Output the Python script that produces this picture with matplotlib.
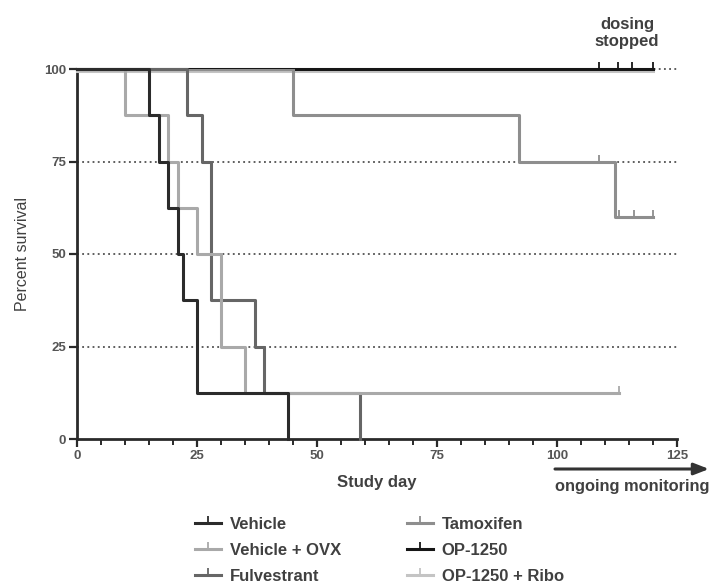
import matplotlib.pyplot as plt
from matplotlib.lines import Line2D

plt.rcParams['font.family'] = ['Liberation Sans', 'DejaVu Sans']

# Kaplan-Meier step data (day of event, survival after event)
veh_days = [0, 15, 17, 19, 21, 22, 25, 44]
veh_surv = [100, 87.5, 75, 62.5, 50, 37.5, 12.5, 0]

ovx_days = [0, 10, 19, 21, 25, 30, 35, 113]
ovx_surv = [100, 87.5, 75, 62.5, 50, 25, 12.5, 12.5]
ovx_cens = [113]

ful_days = [0, 23, 26, 28, 37, 39, 59]
ful_surv = [100, 87.5, 75, 37.5, 25, 12.5, 0]

tam_days = [0, 45, 92, 112, 120]
tam_surv = [100, 87.5, 75, 60, 60]
tam_cens_days = [108.8, 113, 116, 120]
tam_cens_surv = [75, 60, 60, 60]

op_days = [0, 120]
op_surv = [100, 100]
op_cens = [108.8, 112.8, 115.6, 120]

opr_days = [0, 120]
opr_surv = [100, 100]
opr_cens = [108.8, 112.8, 115.6, 120]

names = ['Vehicle', 'Vehicle + OVX', 'Fulvestrant', 'Tamoxifen', 'OP-1250', 'OP-1250 + Ribo']
colors = ['#2b2b2b', '#a9a9a9', '#666666', '#8e8e8e', '#161616', '#c4c4c4']
txt = '#404040'

fig = plt.figure(figsize=(7.1, 5.88), dpi=100)
ax = fig.add_axes([77/710, 1-439/588, 600/710, 370/588])

for yv in [25, 50, 75, 100]:
    ax.plot([0, 125], [yv, yv], ls=(0, (1.2, 2.2)), color='#333333', lw=1.1, zorder=1, clip_on=False)

lw = 2.2
ax.step(opr_days, [s - 0.6 for s in opr_surv], where='post', color=colors[5], lw=lw, clip_on=False, zorder=3)
ax.step(op_days, op_surv, where='post', color=colors[4], lw=lw, clip_on=False, zorder=3)
ax.plot(op_cens, [100]*len(op_cens), ls='', marker=2, ms=5, mew=1.3, color=colors[4], clip_on=False, zorder=4)
ax.step(tam_days, tam_surv, where='post', color=colors[3], lw=lw, zorder=3)
ax.plot(tam_cens_days, tam_cens_surv, ls='', marker=2, ms=5, mew=1.3, color=colors[3], zorder=4)
ax.step(ful_days, ful_surv, where='post', color=colors[2], lw=lw, zorder=3, clip_on=False)
ax.step(ovx_days, ovx_surv, where='post', color=colors[1], lw=lw, zorder=3)
ax.plot(ovx_cens, [12.5], ls='', marker=2, ms=5, mew=1.3, color=colors[1], zorder=4)
ax.step(veh_days, veh_surv, where='post', color=colors[0], lw=lw, zorder=4, clip_on=False)

ax.set_xlim(0, 125)
ax.set_ylim(0, 100)
ax.set_xticks([0, 25, 50, 75, 100, 125])
ax.set_xticks(range(0, 126, 5), minor=True)
ax.set_yticks([0, 25, 50, 75, 100])
for s in ['top', 'right']:
    ax.spines[s].set_visible(False)
for s in ['left', 'bottom']:
    ax.spines[s].set_linewidth(2)
    ax.spines[s].set_color('#2a2a2a')
ax.tick_params(which='major', length=6, width=1.6, color='#2a2a2a', labelsize=9.5,
               labelcolor='#555555', pad=2)
ax.tick_params(which='minor', length=4, width=1.4, color='#2a2a2a')
for lab in ax.get_xticklabels() + ax.get_yticklabels():
    lab.set_fontweight('bold')

ax.set_xlabel('Study day', fontsize=12, fontweight='bold', color=txt, labelpad=9)
ax.set_ylabel('Percent survival', fontsize=11.5, color=txt, labelpad=10)

ax.text(114.6, 105.5, 'dosing\nstopped', ha='center', va='bottom', fontsize=12,
        fontweight='bold', color=txt, linespacing=1.15, clip_on=False)

ax.annotate('', xy=(709/710, 1-469/588), xytext=(555/710, 1-469/588),
            xycoords='figure fraction', textcoords='figure fraction',
            arrowprops=dict(arrowstyle='-|>,head_length=0.9,head_width=0.35',
                            color='#333333', lw=2.2, shrinkA=0, shrinkB=0))
fig.text(555/710, 1-487/588, 'ongoing monitoring', ha='left', va='center',
         fontsize=11.8, fontweight='bold', color=txt)

handles = [Line2D([0], [0], color=c, lw=2.2, marker=2, ms=5, mew=1.3) for c in colors]
kw = dict(loc='upper left', frameon=False, handlelength=1.6, handletextpad=0.5,
          labelspacing=0.66, numpoints=1, prop={'size': 12, 'weight': 'bold'},
          borderaxespad=0)
leg1 = fig.legend(handles[:3], names[:3], bbox_to_anchor=(188/710, 1-510/588), **kw)
leg2 = fig.legend(handles[3:], names[3:], bbox_to_anchor=(400/710, 1-510/588), **kw)
for lg in (leg1, leg2):
    for t in lg.get_texts():
        t.set_color(txt)

fig.savefig('out.png', dpi=100)
